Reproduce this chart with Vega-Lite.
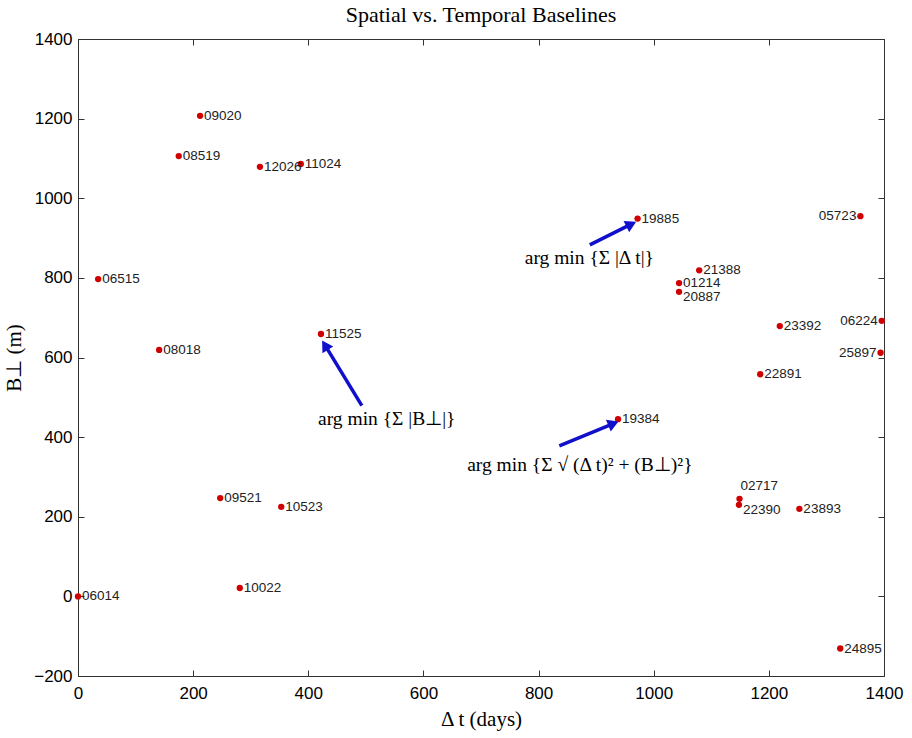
{
  "$schema": "https://vega.github.io/schema/vega-lite/v6.json",
  "width": 806,
  "height": 637,
  "autosize": "none",
  "padding": {"left": 78, "top": 39, "right": 28, "bottom": 62},
  "background": "white",
  "title": {"text": "Spatial vs. Temporal Baselines", "font": "Liberation Serif", "fontSize": 22, "fontWeight": "normal", "color": "black", "offset": 3, "anchor": "middle"},
  "config": {"view": {"stroke": "#333", "strokeWidth": 1}},
  "datasets": {
    "pts": [
      {"id": "06014", "dt": 0, "bp": 0},
      {"id": "06515", "dt": 35, "bp": 797},
      {"id": "09020", "dt": 212, "bp": 1207},
      {"id": "08519", "dt": 175, "bp": 1106},
      {"id": "12026", "dt": 316, "bp": 1079},
      {"id": "11024", "dt": 387, "bp": 1086},
      {"id": "08018", "dt": 141, "bp": 619},
      {"id": "11525", "dt": 422, "bp": 659},
      {"id": "09521", "dt": 247, "bp": 247},
      {"id": "10523", "dt": 353, "bp": 225},
      {"id": "10022", "dt": 281, "bp": 21},
      {"id": "19885", "dt": 972, "bp": 949},
      {"id": "05723", "dt": 1359, "bp": 955},
      {"id": "21388", "dt": 1079, "bp": 819},
      {"id": "01214", "dt": 1044, "bp": 787},
      {"id": "20887", "dt": 1044, "bp": 765},
      {"id": "23392", "dt": 1219, "bp": 679},
      {"id": "06224", "dt": 1396, "bp": 692},
      {"id": "25897", "dt": 1394, "bp": 612},
      {"id": "22891", "dt": 1185, "bp": 558},
      {"id": "19384", "dt": 938, "bp": 445},
      {"id": "02717", "dt": 1149, "bp": 245},
      {"id": "22390", "dt": 1148, "bp": 230},
      {"id": "23893", "dt": 1253, "bp": 220},
      {"id": "24895", "dt": 1324, "bp": -131}
    ],
    "arrows": [
      {"x": 493, "y": 479, "x2": 429, "y2": 631},
      {"x": 889, "y": 883, "x2": 961, "y2": 935},
      {"x": 836, "y": 378, "x2": 930, "y2": 434}
    ],
    "notes": [
      {"x": 417, "y": 446, "t": "arg min {Σ |B⊥|}"},
      {"x": 776, "y": 850, "t": "arg min {Σ |Δ t|}"},
      {"x": 676, "y": 330, "t": "arg min {Σ √ (Δ t)² + (B⊥)²}"}
    ]
  },
  "layer": [
    {"data": {"name": "pts"}, "mark": {"type": "circle", "size": 40, "color": "#d00000", "opacity": 1},
      "encoding": {
        "x": {"field": "dt", "type": "quantitative", "scale": {"domain": [0, 1400], "nice": false, "zero": false},
          "axis": {"orient": "bottom", "title": "Δ t (days)", "titleFont": "Liberation Serif", "titleFontSize": 21, "titleFontWeight": "normal", "titleColor": "black", "titlePadding": 7,
            "labelFont": "Liberation Sans", "labelFontSize": 17, "labelColor": "black", "labelPadding": 15, "values": [0,200,400,600,800,1000,1200,1400], "format": "d",
            "grid": false, "tickSize": -6, "tickColor": "#333", "domainColor": "#333", "labelFlush": false}},
        "y": {"field": "bp", "type": "quantitative", "scale": {"domain": [-200, 1400], "nice": false, "zero": false},
          "axis": {"orient": "left", "title": "B⊥ (m)", "titleFont": "Liberation Serif", "titleFontSize": 21, "titleFontWeight": "normal", "titleColor": "black", "titlePadding": 9,
            "labelFont": "Liberation Sans", "labelFontSize": 17, "labelColor": "black", "labelPadding": 12, "values": [-200,0,200,400,600,800,1000,1200,1400], "format": "d",
            "grid": false, "tickSize": -6, "tickColor": "#333", "domainColor": "#333", "labelFlush": false}}
      }},
    {"data": {"name": "pts"}, "transform": [{"filter": "indexof(['05723','06224','25897','02717','22390','20887'], datum.id) < 0"}],
      "mark": {"type": "text", "align": "left", "baseline": "middle", "dx": 4, "font": "Liberation Sans", "fontSize": 13.5, "color": "#222"},
      "encoding": {"x": {"field": "dt", "type": "quantitative", "axis": null}, "y": {"field": "bp", "type": "quantitative", "axis": null}, "text": {"field": "id"}}},
    {"data": {"name": "pts"}, "transform": [{"filter": "indexof(['05723','06224','25897'], datum.id) >= 0"}],
      "mark": {"type": "text", "align": "right", "baseline": "middle", "dx": -4, "font": "Liberation Sans", "fontSize": 13.5, "color": "#222"},
      "encoding": {"x": {"field": "dt", "type": "quantitative", "axis": null}, "y": {"field": "bp", "type": "quantitative", "axis": null}, "text": {"field": "id"}}},
    {"data": {"name": "pts"}, "transform": [{"filter": "datum.id == '02717'"}],
      "mark": {"type": "text", "align": "left", "baseline": "middle", "dx": 1, "dy": -13, "font": "Liberation Sans", "fontSize": 13.5, "color": "#222"},
      "encoding": {"x": {"field": "dt", "type": "quantitative", "axis": null}, "y": {"field": "bp", "type": "quantitative", "axis": null}, "text": {"field": "id"}}},
    {"data": {"name": "pts"}, "transform": [{"filter": "datum.id == '22390' || datum.id == '20887'"}],
      "mark": {"type": "text", "align": "left", "baseline": "middle", "dx": 4, "dy": 5, "font": "Liberation Sans", "fontSize": 13.5, "color": "#222"},
      "encoding": {"x": {"field": "dt", "type": "quantitative", "axis": null}, "y": {"field": "bp", "type": "quantitative", "axis": null}, "text": {"field": "id"}}},
    {"data": {"name": "arrows"}, "mark": {"type": "rule", "color": "#1010cc", "strokeWidth": 3.5},
      "encoding": {"x": {"field": "x", "type": "quantitative", "axis": null}, "y": {"field": "y", "type": "quantitative", "axis": null}, "x2": {"field": "x2"}, "y2": {"field": "y2"}}},
    {"data": {"name": "arrows"}, "transform": [{"calculate": "atan2((datum.x2 - datum.x) * 0.5757, (datum.y2 - datum.y) * 0.398) * 180 / PI", "as": "ang"}],
      "mark": {"type": "point", "shape": "triangle-up", "filled": true, "size": 160, "color": "#1010cc", "opacity": 1},
      "encoding": {"x": {"field": "x2", "type": "quantitative", "axis": null}, "y": {"field": "y2", "type": "quantitative", "axis": null}, "angle": {"field": "ang", "type": "quantitative", "scale": null}}},
    {"data": {"name": "notes"}, "mark": {"type": "text", "align": "left", "baseline": "middle", "font": "Liberation Serif", "fontSize": 19.5, "color": "black"},
      "encoding": {"x": {"field": "x", "type": "quantitative", "axis": null}, "y": {"field": "y", "type": "quantitative", "axis": null}, "text": {"field": "t"}}},
    {"data": {"name": "pts"}, "mark": {"type": "point", "opacity": 0},
      "encoding": {
        "x": {"field": "dt", "type": "quantitative", "axis": {"orient": "top", "title": null, "labels": false, "values": [0,200,400,600,800,1000,1200,1400], "grid": false, "tickSize": -6, "tickColor": "#333", "domainColor": "#333"}},
        "y": {"field": "bp", "type": "quantitative", "axis": {"orient": "right", "title": null, "labels": false, "values": [-200,0,200,400,600,800,1000,1200,1400], "grid": false, "tickSize": -6, "tickColor": "#333", "domainColor": "#333"}}
      }}
  ],
  "resolve": {"axis": {"x": "independent", "y": "independent"}}
}
